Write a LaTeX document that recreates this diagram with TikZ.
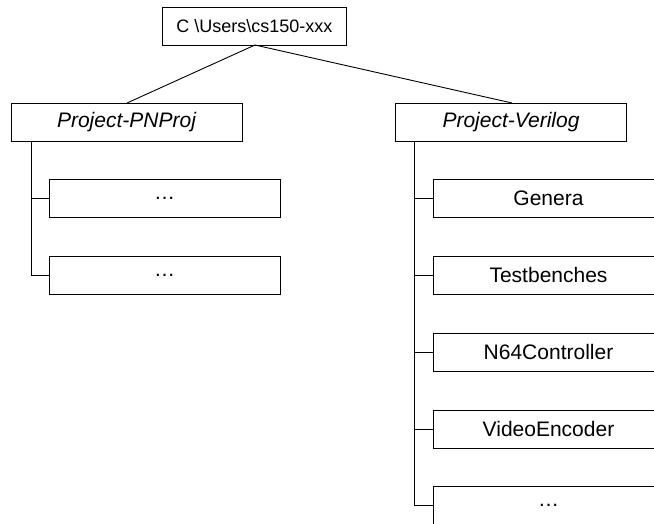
\documentclass[tikz,border=0pt]{standalone}
\usepackage{fontspec}
\setmainfont{Liberation Sans}
\begin{document}
\begin{tikzpicture}[x=1pt,y=-1pt,
  box/.style={draw=black,line width=0.9pt,minimum width=231pt,minimum height=38pt,inner sep=0pt,font=\fontsize{21}{25}\selectfont},
  rootbox/.style={box,minimum width=184pt,font=\fontsize{18}{22}\selectfont},
  conn/.style={draw=black,line width=0.9pt}]
\useasboundingbox (0,0) rectangle (654,523);
\clip (0,0) rectangle (654,523);
\node[rootbox] (root) at (254.5,26) {C \textbackslash Users\textbackslash cs150-xxx};
\node[box,font=\fontsize{21}{25}\selectfont\itshape] (pn) at (126.5,122) {Project-PNProj};
\node[box,font=\fontsize{21}{25}\selectfont\itshape] (vl) at (511,122) {Project-Verilog};
\coordinate (rootb) at (255,45);
\coordinate (pnt) at (127,103);
\coordinate (vlt) at (512,103);
\draw[conn] (rootb) -- (pnt);
\draw[conn] (rootb) -- (vlt);
% left children
\node[box] (p1) at (164.5,198.5) {\ldots};
\node[box] (p2) at (164.5,275) {\ldots};
\coordinate (pv) at (31,141);
\draw[conn] (pv) |- (p2.west);
\draw[conn] (pv |- p1.west) -- (p1.west);
% right children
\node[box] (v1) at (548.5,198.5) {Genera};
\node[box] (v2) at (548.5,275) {Testbenches};
\node[box] (v3) at (548.5,352) {N64Controller};
\node[box] (v4) at (548.5,429) {VideoEncoder};
\node[box] (v5) at (548.5,505.5) {\ldots};
\coordinate (vv) at (414,141);
\draw[conn] (vv) |- (v5.west);
\foreach \n in {v1,v2,v3,v4} \draw[conn] (vv |- \n.west) -- (\n.west);
\end{tikzpicture}
\end{document}
